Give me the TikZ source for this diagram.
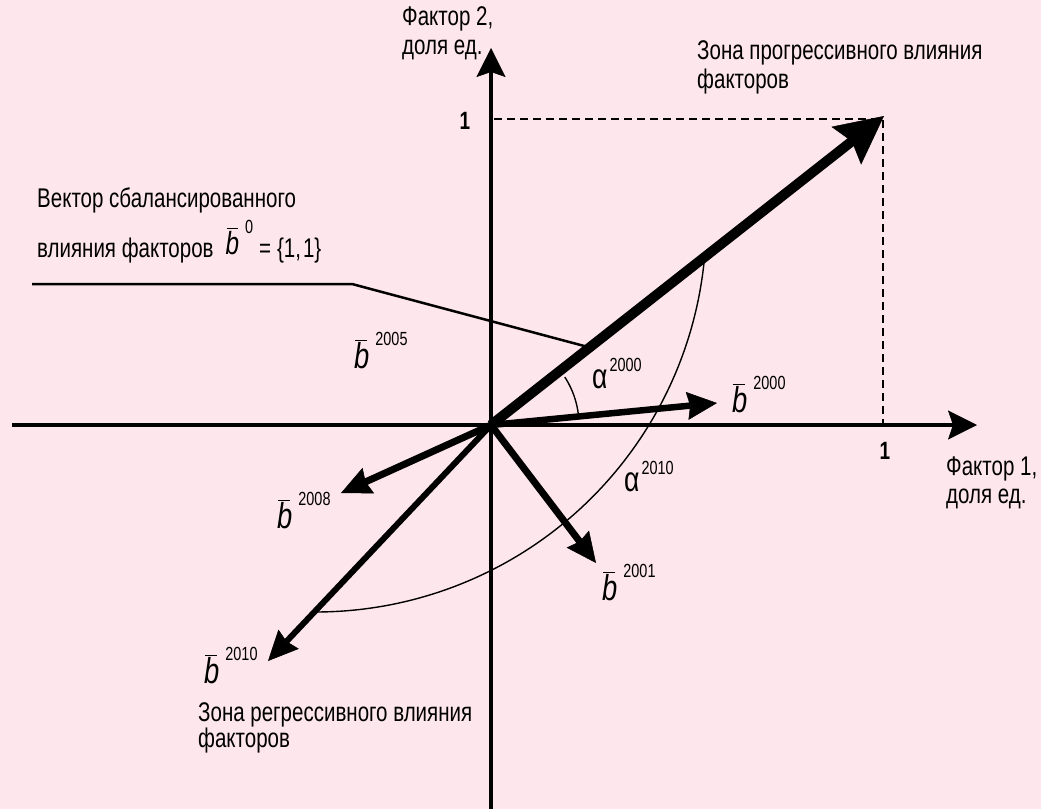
\documentclass[tikz,border=0pt]{standalone}
\usepackage{fontspec}
\setmainfont{Liberation Sans}[FakeStretch=0.76]
\usetikzlibrary{arrows.meta}
\definecolor{bgpink}{RGB}{253,230,236}
\newcommand{\bvecl}[1]{\makebox[0pt][l]{\hspace{1pt}\rule[27pt]{12pt}{1.4pt}}{\fontsize{36}{36}\selectfont\itshape b}\hspace{6pt}\raisebox{23pt}{\fontsize{19}{19}\selectfont #1}}
\newcommand{\alphal}[1]{{\fontsize{35}{35}\selectfont\char"03B1}\hspace{2pt}\raisebox{17pt}{\fontsize{19}{19}\selectfont #1}}
\begin{document}
\begin{tikzpicture}[x=1pt,y=-1pt,
  txt/.style={inner sep=0pt, anchor=base west, font=\fontsize{27}{27}\selectfont},
  num/.style={inner sep=0pt, anchor=base, font=\fontsize{25}{25}\selectfont\bfseries},
  lbl/.style={inner sep=0pt, anchor=base west},
  axis/.style={line width=3.5pt, -{Stealth[length=29pt,width=29pt,inset=5pt,line width=0.5pt]}},
  bigvec/.style={line width=10pt, -{Stealth[length=48pt,width=48pt,inset=7pt,line width=0.5pt]}},
  vec/.style={line width=7pt, -{Stealth[length=30pt,width=28pt,inset=3pt,line width=0.5pt]}},
  guide/.style={line width=1.3pt, dash pattern=on 8pt off 5pt},
  thin/.style={line width=1.4pt}]
\fill[bgpink] (0,0) rectangle (1041,809);
\useasboundingbox (0,0) rectangle (1041,809);
% key points
\coordinate (O) at (491,425);
\coordinate (xs) at (12,425);
\coordinate (xe) at (977,425);
\coordinate (ys) at (491,809);
\coordinate (ye) at (491,48);
\coordinate (t0) at (884,116);
\coordinate (t2000) at (717,403);
\coordinate (t2001) at (596,563);
\coordinate (t2008) at (341,493);
\coordinate (t2010) at (268,661);
\coordinate (d1) at (494,119);
\coordinate (d2) at (883,119);
\coordinate (d3) at (883,425);
\coordinate (l1) at (32,284);
\coordinate (l2) at (352,284);
\coordinate (l3) at (588,347);
% guides
\draw[guide] (d1) -- (d2) -- (d3);
% axes
\draw[axis] (xs) -- (xe);
\draw[axis] (ys) -- (ye);
% arcs
\draw[thin] plot[domain=6.1:90.4, samples=60, smooth] ({315.7+390.5*cos(\x)}, {221.5+390.5*sin(\x)});
\draw[thin] plot[domain=7:33, samples=20, smooth] ({491+88*cos(\x)}, {425-88*sin(\x)});
% leader
\draw[line width=2.5pt] (l1) -- (l2) -- (l3);
% vectors
\draw[bigvec] (O) -- (t0);
\draw[vec, line width=6.5pt] (O) -- (t2000);
\draw[vec] (O) -- (t2001);
\draw[vec] (O) -- (t2008);
\draw[vec, line width=6pt] (O) -- (t2010);
% axis numbers
\node[num] (n1y) at (465,129) {1};
\node[num] (n1x) at (885,459) {1};
% texts
\node[txt] (f2a) at (402,25) {Фактор 2,};
\node[txt] (f2b) at (402,54) {доля ед.};
\node[txt] (f1a) at (946,475) {Фактор 1,};
\node[txt] (f1b) at (946,503) {доля ед.};
\node[txt] (zp1) at (697,59) {Зона прогрессивного влияния};
\node[txt] (zp2) at (697,88) {факторов};
\node[txt] (zr1) at (198,721) {Зона регрессивного влияния};
\node[txt] (zr2) at (198,747) {факторов};
\node[txt] (vb1) at (37,207) {Вектор сбалансированного};
\node[txt] (vb2) at (37,257) {влияния факторов\hspace{12pt}\raisebox{3pt}{\makebox[0pt][l]{\hspace{1pt}\rule[25pt]{11pt}{1.3pt}}{\fontsize{32}{32}\selectfont\itshape b}\hspace{6pt}\raisebox{21pt}{\fontsize{19}{19}\selectfont 0}}\hspace{6pt}=\hspace{6pt}\{1,\hspace{2pt}1\}};
% vector labels
\node[lbl] (b2000) at (732,412) {\bvecl{2000}};
\node[lbl] (b2005) at (354,368) {\bvecl{2005}};
\node[lbl] (b2008) at (277,528) {\bvecl{2008}};
\node[lbl] (b2001) at (602,600) {\bvecl{2001}};
\node[lbl] (b2010) at (204,683) {\bvecl{2010}};
\node[lbl] (a2000) at (592,388) {\alphal{2000}};
\node[lbl] (a2010) at (624,491) {\alphal{2010}};
\end{tikzpicture}
\end{document}
